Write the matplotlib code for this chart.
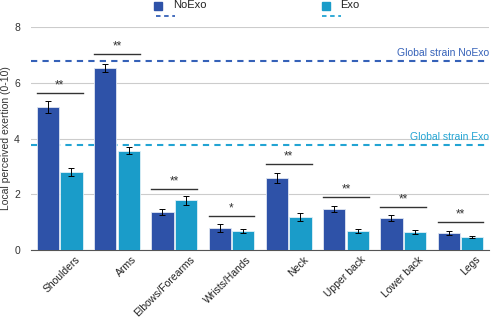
import matplotlib
matplotlib.use("Agg")
import matplotlib.pyplot as plt
import matplotlib.transforms as mtrans
import numpy as np
from matplotlib.patches import Rectangle
from matplotlib.lines import Line2D

plt.rcParams["font.family"] = ["Liberation Sans", "DejaVu Sans"]

categories = ["Shoulders", "Arms", "Elbows/Forearms", "Wrists/Hands", "Neck",
              "Upper back", "Lower back", "Legs"]
noexo = [5.13, 6.52, 1.37, 0.79, 2.58, 1.47, 1.15, 0.62]
exo = [2.80, 3.56, 1.78, 0.69, 1.18, 0.69, 0.65, 0.47]
noexo_err = [0.2, 0.15, 0.1, 0.15, 0.18, 0.12, 0.12, 0.08]
exo_err = [0.15, 0.12, 0.15, 0.08, 0.14, 0.08, 0.08, 0.05]
sig_y = [5.63, 7.03, 2.19, 1.22, 3.08, 1.90, 1.54, 1.00]
sig_labels = ["**", "**", "**", "*", "**", "**", "**", "**"]
global_noexo = 6.77
global_exo = 3.76
yticks = [0, 2, 4, 6, 8]

c_no = "#2E52A8"
c_ex = "#1A9CC9"
c_no_line = "#3561B8"
c_ex_line = "#22A4D3"

fig = plt.figure(figsize=(4.93, 3.17), dpi=100)
ax = fig.add_axes([0.063, 0.211, 0.929, 0.704])

x = np.arange(len(categories))
w = 0.39
off = 0.205
ax.bar(x - off, noexo, w, color=c_no, edgecolor="#dfe6f2", linewidth=0.6, zorder=3)
ax.bar(x + off, exo, w, color=c_ex, edgecolor="#dff0f7", linewidth=0.6, zorder=3)
ax.errorbar(x - off, noexo, yerr=noexo_err, fmt="none", ecolor="black",
            elinewidth=0.7, capsize=2, capthick=0.7, zorder=4)
ax.errorbar(x + off, exo, yerr=exo_err, fmt="none", ecolor="black",
            elinewidth=0.7, capsize=2, capthick=0.7, zorder=4)

for i, (sy, lab) in enumerate(zip(sig_y, sig_labels)):
    ax.plot([i - off - w / 2, i + off + w / 2], [sy, sy], color="#333333", lw=1.0, zorder=4)
    ax.text(i, sy + 0.05, lab, ha="center", va="bottom", fontsize=8.5, color="#333333")

ax.axhline(global_noexo, color=c_no_line, lw=1.5, ls=(0, (3, 2.5)), zorder=2)
ax.axhline(global_exo, color=c_ex_line, lw=1.5, ls=(0, (3, 2.5)), zorder=2)
ax.text(7.5, global_noexo + 0.12, "Global strain NoExo", ha="right", va="bottom",
        fontsize=7.5, color=c_no_line)
ax.text(7.5, global_exo + 0.12, "Global strain Exo", ha="right", va="bottom",
        fontsize=7.5, color=c_ex_line)

ax.set_xlim(-0.5, 7.5)
ax.set_ylim(0, 8)
ax.set_yticks(yticks)
ax.set_yticklabels([str(t) for t in yticks], fontsize=7.5, color="#333333")
ax.yaxis.grid(True, color="#cccccc", lw=0.8, zorder=0)
ax.set_axisbelow(True)
ax.tick_params(axis="y", length=0, pad=8)
ax.tick_params(axis="x", length=0, pad=3)
ax.set_xticks(x)
ax.set_xticklabels(categories, rotation=45, ha="right", rotation_mode="anchor",
                   fontsize=7.5, color="#222222")
shift = mtrans.ScaledTranslation(15 / 100, 0, fig.dpi_scale_trans)
for lbl in ax.get_xticklabels():
    lbl.set_transform(lbl.get_transform() + shift)
for s in ["top", "right", "left"]:
    ax.spines[s].set_visible(False)
ax.spines["bottom"].set_color("#555555")
ax.spines["bottom"].set_linewidth(0.8)
ax.set_ylabel("Local perceived exertion (0-10)", fontsize=7.5, color="#333333", labelpad=2)

# legend
fig.patches.append(Rectangle((154 / 493, 1 - 10 / 317), 8 / 493, 8 / 317,
                             transform=fig.transFigure, color=c_no))
fig.text(173 / 493, 1 - 5.5 / 317, "NoExo", fontsize=8, va="center", ha="left", color="#222222")
fig.lines.append(Line2D([156 / 493, 175 / 493], [1 - 16 / 317, 1 - 16 / 317],
                        transform=fig.transFigure, color=c_no_line, lw=1.3, ls=(0, (2.5, 2))))
fig.patches.append(Rectangle((322 / 493, 1 - 10 / 317), 8 / 493, 8 / 317,
                             transform=fig.transFigure, color=c_ex))
fig.text(340 / 493, 1 - 5.5 / 317, "Exo", fontsize=8, va="center", ha="left", color="#222222")
fig.lines.append(Line2D([322 / 493, 341 / 493], [1 - 16 / 317, 1 - 16 / 317],
                        transform=fig.transFigure, color=c_ex_line, lw=1.3, ls=(0, (2.5, 2))))

fig.savefig("out.png", dpi=100)
